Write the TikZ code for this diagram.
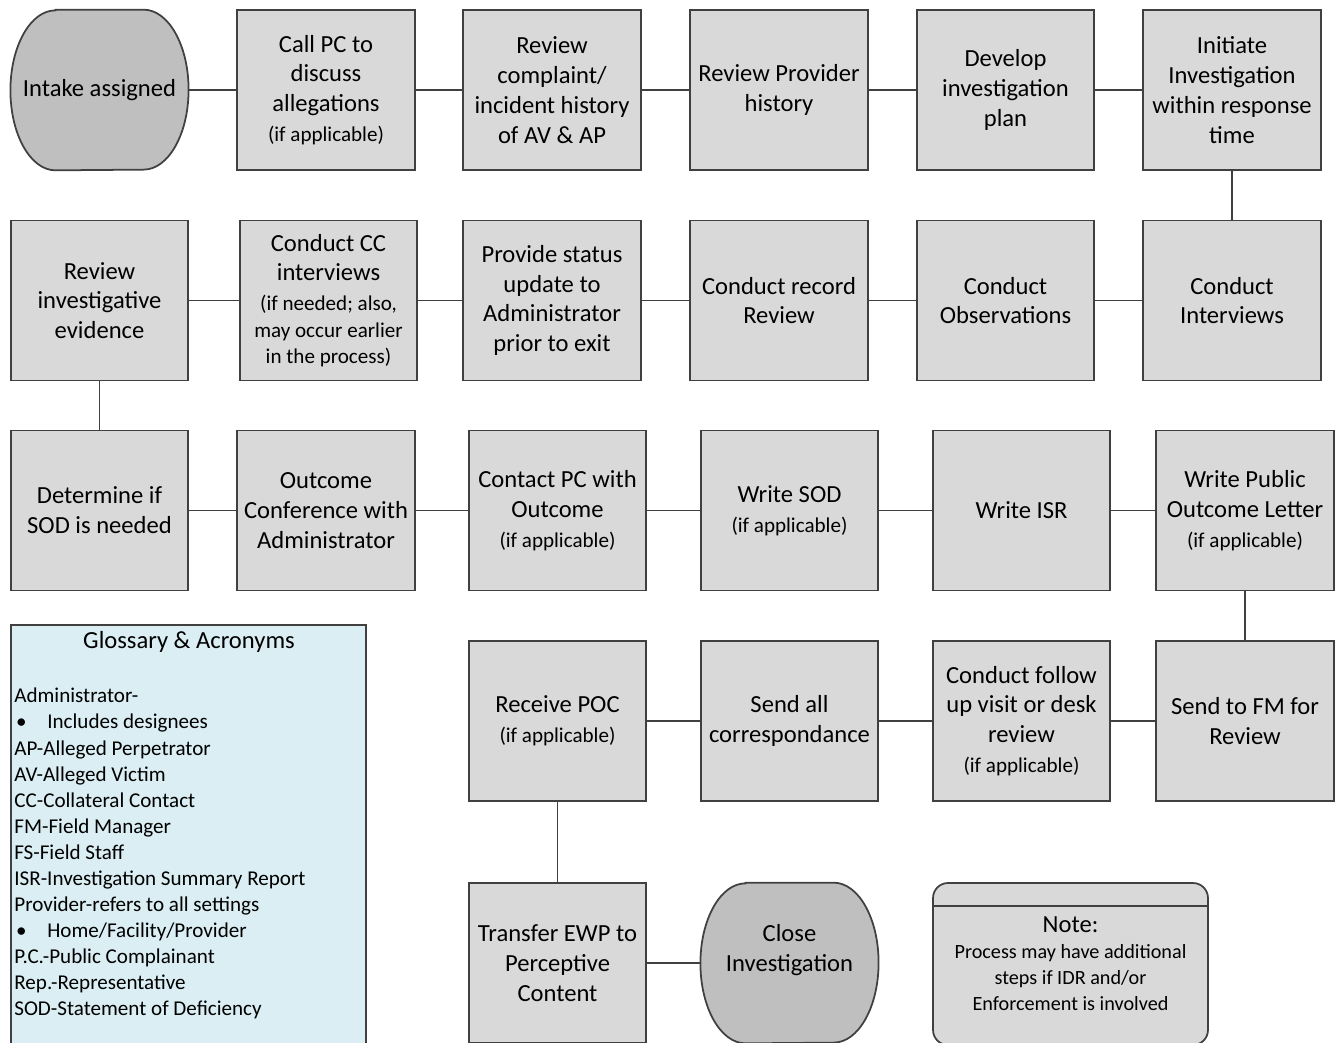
\documentclass[tikz,border=0pt]{standalone}
\usepackage{fontspec}
\setmainfont{Carlito}
\usetikzlibrary{backgrounds}
\definecolor{boxgray}{HTML}{D9D9D9}
\definecolor{termgray}{HTML}{BFBFBF}
\definecolor{glossblue}{HTML}{DAEEF3}
\definecolor{edgegray}{HTML}{404040}
\newcommand{\ifapp}{{\fontsize{12}{15}\selectfont (if applicable)}}
\newcommand{\smalltxt}[1]{{\fontsize{12}{15}\selectfont #1}}

\begin{document}
\begin{tikzpicture}[x=0.02cm, y=-0.02cm,
  stepbox/.style={draw=edgegray, line width=1pt, fill=boxgray,
    minimum width=3.55cm, minimum height=3.2cm, inner sep=1pt,
    align=center, font=\fontsize{14}{17}\selectfont},
  termbox/.style={minimum width=3.55cm, minimum height=3.2cm, inner sep=1pt,
    align=center, font=\fontsize{14}{17}\selectfont},
  termshape/.style={draw=edgegray, line width=1pt, fill=termgray},
  link/.style={draw=edgegray, line width=0.8pt}]
\useasboundingbox (0,0) rectangle (1339,1043);
\clip (0,0) rectangle (1339,1043);
%first row
\node[termbox] (intake) at (99.5,90) {Intake assigned};
\node[stepbox] (callpc) at (326,90) {Call PC to\\discuss\\allegations\\\ifapp};
\node[stepbox] (review) at (552,90) {Review\\complaint/\\incident history\\of AV \& AP};
\node[stepbox] (provhist) at (779,90) {Review Provider\\history};
\node[stepbox] (plan) at (1005.5,90) {Develop\\investigation\\plan};
\node[stepbox] (initiate) at (1232,90) {Initiate\\Investigation\\within response\\time};
%second row
\node[stepbox] (evidence) at (99.5,300.5) {Review\\investigative\\evidence};
\node[stepbox] (ccint) at (328.5,300.5) {Conduct CC\\interviews\\\smalltxt{(if needed; also,}\\[-2pt]\smalltxt{may occur earlier}\\[-2pt]\smalltxt{in the process)}};
\node[stepbox] (status) at (552,300.5) {Provide status\\update to\\Administrator\\prior to exit};
\node[stepbox] (record) at (779,300.5) {Conduct record\\Review};
\node[stepbox] (observe) at (1005.5,300.5) {Conduct\\Observations};
\node[stepbox] (interviews) at (1232,300.5) {Conduct\\Interviews};
%third row
\node[stepbox] (sodneed) at (99.5,510.5) {Determine if\\SOD is needed};
\node[stepbox] (outconf) at (326,510.5) {Outcome\\Conference with\\Administrator};
\node[stepbox] (contactpc) at (557.5,510.5) {Contact PC with\\Outcome\\\ifapp};
\node[stepbox] (writesod) at (789.5,510.5) {Write SOD\\\ifapp};
\node[stepbox] (writeisr) at (1021.5,510.5) {Write ISR};
\node[stepbox] (publetter) at (1245,510.5) {Write Public\\Outcome Letter\\\ifapp};
%fourth row
\node[stepbox] (poc) at (557.5,721) {Receive POC\\\ifapp};
\node[stepbox] (sendall) at (789.5,721) {Send all\\correspondance};
\node[stepbox] (followup) at (1021.5,721) {Conduct follow\\up visit or desk\\review\\\ifapp};
\node[stepbox] (fmreview) at (1245,721) {Send to FM for\\Review};
%last row
\node[stepbox] (transfer) at (557.5,963) {Transfer EWP to\\Perceptive\\Content};
\node[termbox] (close) at (789.5,963) {Close\\Investigation\\\mbox{}};
%terminal outlines
\begin{scope}[on background layer]
\foreach \n in {intake,close}
{
  \draw[termshape] ([xshift=0.9cm]\n.north west) -- ([xshift=-0.9cm]\n.north east)
    arc[start angle=90, end angle=-90, x radius=0.9cm, y radius=1.6cm]
    -- ([xshift=0.9cm]\n.south west)
    arc[start angle=270, end angle=90, x radius=0.9cm, y radius=1.6cm] -- cycle;
}
\end{scope}
%links
\foreach \a/\b in {intake/callpc, callpc/review, review/provhist, provhist/plan,
  plan/initiate, initiate/interviews, interviews/observe, observe/record,
  record/status, status/ccint, ccint/evidence, evidence/sodneed,
  sodneed/outconf, outconf/contactpc, contactpc/writesod, writesod/writeisr,
  writeisr/publetter, publetter/fmreview, fmreview/followup, followup/sendall,
  sendall/poc, poc/transfer, transfer/close}
{
  \draw[link] (\a) -- (\b);
}
%note
\node[draw=edgegray, line width=1pt, fill=boxgray, rounded corners=0.3cm,
  minimum width=5.5cm, minimum height=3.24cm] (note) at (1070.5,964) {};
\draw[edgegray, line width=1pt] ([yshift=-0.48cm]note.north west) -- ([yshift=-0.48cm]note.north east);
\node[align=center, font=\fontsize{11.5}{14.8}\selectfont] (notetext) at (1070.5,964)
  {{\fontsize{14}{17}\selectfont Note:}\\Process may have additional\\steps if IDR and/or\\Enforcement is involved};
%glossary
\node[draw=edgegray, line width=1pt, fill=glossblue, minimum width=7.1cm,
  minimum height=8.8cm] (glossary) at (188.5,845) {};
\node[font=\fontsize{14}{17}\selectfont] (glosstitle) at (189,642) {Glossary \& Acronyms};
\node[anchor=north west, align=left, inner sep=0pt, font=\fontsize{12}{14.8}\selectfont]
  (glosstext) at (14,688) {Administrator-\\
  \makebox[0.66cm][l]{\hspace{1pt}\textbullet}Includes designees\\
  AP-Alleged Perpetrator\\
  AV-Alleged Victim\\
  CC-Collateral Contact\\
  FM-Field Manager\\
  FS-Field Staff\\
  ISR-Investigation Summary Report\\
  Provider-refers to all settings\\
  \makebox[0.66cm][l]{\hspace{1pt}\textbullet}Home/Facility/Provider\\
  P.C.-Public Complainant\\
  Rep.-Representative\\
  SOD-Statement of Deficiency};
\end{tikzpicture}
\end{document}
